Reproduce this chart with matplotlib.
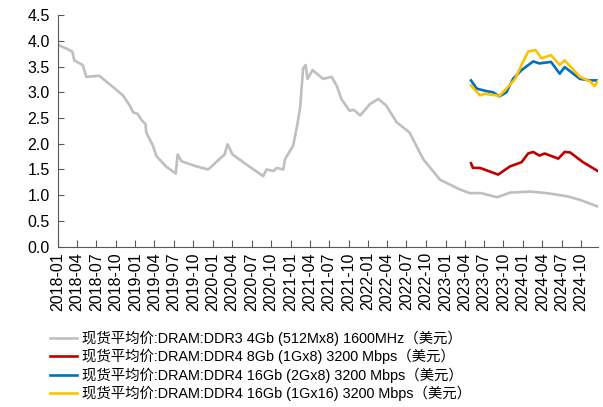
import pandas as pd
import matplotlib.pyplot as plt
import matplotlib.dates as mdates

plt.rcParams['font.family'] = ['Liberation Sans', 'Noto Sans CJK SC']

# DDR3 4Gb
ddr3_dates = ['2018-01-01', '2018-02-10', '2018-03-10', '2018-03-19', '2018-04-28', '2018-05-15',
              '2018-07-15', '2018-09-18', '2018-11-03', '2018-12-06', '2018-12-21', '2019-01-12',
              '2019-02-01', '2019-02-18', '2019-02-21', '2019-03-25', '2019-04-10', '2019-05-25',
              '2019-07-10', '2019-07-19', '2019-08-06', '2019-10-15', '2019-12-10', '2020-02-01',
              '2020-02-25', '2020-03-10', '2020-04-03', '2020-06-06', '2020-08-25', '2020-09-10',
              '2020-10-13', '2020-10-28', '2020-11-28', '2020-12-06', '2021-01-13', '2021-02-01',
              '2021-02-15', '2021-03-01', '2021-03-13', '2021-03-22', '2021-04-15', '2021-06-03',
              '2021-07-13', '2021-08-06', '2021-08-28', '2021-10-06', '2021-10-25', '2021-11-25',
              '2021-12-10', '2022-01-10', '2022-02-18', '2022-03-28', '2022-05-15', '2022-07-15',
              '2022-09-18', '2022-12-06', '2023-03-10', '2023-04-25', '2023-06-18', '2023-09-01',
              '2023-11-01', '2024-02-03', '2024-04-21', '2024-07-25', '2024-09-25', '2024-12-18']
ddr3_vals = [3.92, 3.85, 3.79, 3.62, 3.53, 3.30,
             3.32, 3.10, 2.94, 2.74, 2.61, 2.58,
             2.45, 2.38, 2.22, 1.96, 1.76, 1.56,
             1.42, 1.79, 1.66, 1.56, 1.50, 1.70,
             1.79, 1.99, 1.79, 1.60, 1.37, 1.50,
             1.47, 1.53, 1.50, 1.70, 1.96, 2.35,
             2.70, 3.46, 3.53, 3.26, 3.43, 3.26,
             3.30, 3.13, 2.87, 2.64, 2.66, 2.55,
             2.62, 2.77, 2.87, 2.74, 2.42, 2.22,
             1.70, 1.30, 1.11, 1.04, 1.04, 0.96,
             1.05, 1.07, 1.04, 0.98, 0.91, 0.78]

# DDR4 8Gb
ddr4_8_dates = ['2023-05-01', '2023-05-10', '2023-06-12', '2023-09-06', '2023-11-01', '2023-12-25',
                '2024-01-25', '2024-02-18', '2024-03-18', '2024-04-12', '2024-06-15', '2024-07-15',
                '2024-08-10', '2024-10-10', '2024-12-18']
ddr4_8_vals = [1.62, 1.53, 1.53, 1.40, 1.56, 1.64,
               1.81, 1.84, 1.77, 1.81, 1.71, 1.84,
               1.83, 1.64, 1.47]

# DDR4 16Gb 2Gx8
ddr4_16a_dates = ['2023-05-01', '2023-05-28', '2023-07-15', '2023-08-12', '2023-09-12', '2023-10-15',
                  '2023-11-15', '2023-12-25', '2024-02-18', '2024-03-18', '2024-05-12', '2024-06-22',
                  '2024-07-15', '2024-09-25', '2024-11-12', '2024-12-18']
ddr4_16a_vals = [3.23, 3.07, 3.02, 3.00, 2.92, 3.00,
                 3.26, 3.43, 3.60, 3.56, 3.59, 3.36,
                 3.49, 3.26, 3.23, 3.23]

# DDR4 16Gb 1Gx16
ddr4_16b_dates = ['2023-05-01', '2023-06-12', '2023-07-05', '2023-09-12', '2023-10-15', '2023-11-25',
                  '2023-12-25', '2024-01-25', '2024-02-28', '2024-03-28', '2024-05-12', '2024-06-22',
                  '2024-07-15', '2024-09-25', '2024-11-12', '2024-12-03', '2024-12-18']
ddr4_16b_vals = [3.13, 2.94, 2.97, 2.93, 3.07, 3.26,
                 3.53, 3.79, 3.82, 3.66, 3.72, 3.53,
                 3.62, 3.30, 3.21, 3.12, 3.21]

labels = ['现货平均价:DRAM:DDR3 4Gb (512Mx8) 1600MHz（美元）',
          '现货平均价:DRAM:DDR4 8Gb (1Gx8) 3200 Mbps（美元）',
          '现货平均价:DRAM:DDR4 16Gb (2Gx8) 3200 Mbps（美元）',
          '现货平均价:DRAM:DDR4 16Gb (1Gx16) 3200 Mbps（美元）']

fig = plt.figure(figsize=(6.03, 4.07), dpi=100)
ax = fig.add_axes([0.096, 0.394, 0.896, 0.569])

ax.plot(pd.to_datetime(ddr3_dates), ddr3_vals, color='#BFBFBF', lw=1.9, label=labels[0])
ax.plot(pd.to_datetime(ddr4_8_dates), ddr4_8_vals, color='#C00000', lw=1.9, label=labels[1])
ax.plot(pd.to_datetime(ddr4_16a_dates), ddr4_16a_vals, color='#0070C0', lw=1.9, label=labels[2])
ax.plot(pd.to_datetime(ddr4_16b_dates), ddr4_16b_vals, color='#FFC000', lw=1.9, label=labels[3])

ax.set_ylim(0, 4.5)
ax.set_yticks([0, 0.5, 1.0, 1.5, 2.0, 2.5, 3.0, 3.5, 4.0, 4.5])
ax.yaxis.set_major_formatter(plt.FormatStrFormatter('%.1f'))
ax.set_xlim(pd.Timestamp('2018-01-01'), pd.Timestamp('2024-12-20'))
ax.xaxis.set_major_locator(mdates.MonthLocator(bymonth=[1, 4, 7, 10]))
ax.xaxis.set_major_formatter(mdates.DateFormatter('%Y-%m'))
plt.setp(ax.get_xticklabels(), rotation=90)

ax.tick_params(axis='both', direction='in', labelsize=11.5, colors='#000000')
ax.tick_params(axis='y', length=4, color='#595959', pad=6)
ax.tick_params(axis='x', length=5, color='#595959', pad=4)
for s in ['top', 'right']:
    ax.spines[s].set_visible(False)
for s in ['left', 'bottom']:
    ax.spines[s].set_color('#595959')

fig.legend(loc='upper left', bbox_to_anchor=(0.071, 0.205), frameon=False, fontsize=10.4,
           handlelength=1.9, handletextpad=0.3, labelspacing=0.2, borderpad=0)

fig.savefig('out.png', dpi=100)
